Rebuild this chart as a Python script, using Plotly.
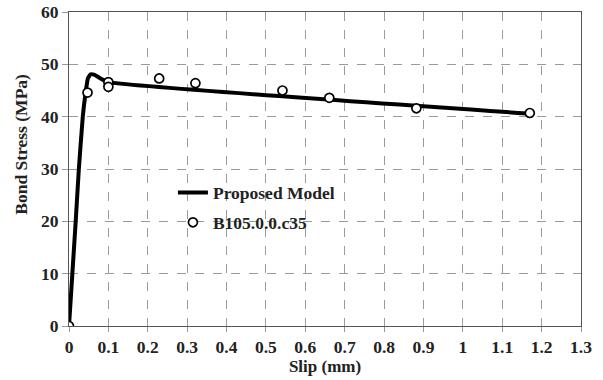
import plotly.graph_objects as go

# Proposed model curve
model_slip = [0, 0.0085, 0.017, 0.025, 0.035, 0.042, 0.048, 0.055, 0.065, 0.08, 0.1, 1.165]
model_stress = [0, 10, 20, 30, 40, 44.5, 47.3, 48.1, 48.0, 47.3, 46.6, 40.6]

# Experimental points B105.0.0.c35
exp_slip = [0, 0.047, 0.1, 0.1, 0.229, 0.321, 0.542, 0.661, 0.882, 1.17]
exp_stress = [0, 44.6, 46.6, 45.7, 47.3, 46.4, 45.0, 43.6, 41.6, 40.7]

x_ticks = [round(0.1 * i, 1) for i in range(14)]
x_labels = ["0", "0.1", "0.2", "0.3", "0.4", "0.5", "0.6", "0.7", "0.8", "0.9", "1", "1.1", "1.2", "1.3"]
y_ticks = [0, 10, 20, 30, 40, 50, 60]

FONT = "Liberation Serif"

fig = go.Figure()
fig.add_trace(go.Scatter(
    x=model_slip, y=model_stress, mode="lines", name="<b>Proposed Model</b>",
    line=dict(color="black", width=4, shape="spline", smoothing=0.4),
    legendgroup="a",
))
fig.add_trace(go.Scatter(
    x=exp_slip, y=exp_stress, mode="markers", name="<b>B105.0.0.c35</b>",
    marker=dict(symbol="circle", size=9, color="white", line=dict(color="black", width=1.7)),
    legendgroup="b",
))

fig.update_layout(
    width=603, height=380,
    margin=dict(l=69, r=22, t=12, b=54),
    plot_bgcolor="white", paper_bgcolor="white",
    font=dict(family=FONT, color="#222", size=17),
    showlegend=True,
    legend=dict(x=0.203, y=0.482, xanchor="left", yanchor="top",
                bgcolor="rgba(0,0,0,0)", font=dict(family=FONT, size=17.5, color="#222"),
                tracegroupgap=4, traceorder="grouped", itemwidth=30),
    xaxis=dict(
        range=[0, 1.3], tickvals=x_ticks, ticktext=["<b>%s</b>" % t for t in x_labels],
        showgrid=True, gridcolor="#9a9a9a", griddash="dash", gridwidth=1,
        showline=True, linecolor="#555", linewidth=1.2, mirror=True,
        ticks="outside", ticklen=5, tickcolor="#999",
        zeroline=False, automargin=False,
        title=dict(text="<b>Slip (mm)</b>", font=dict(family=FONT, size=17), standoff=2),
        tickfont=dict(family=FONT, size=17.5),
    ),
    yaxis=dict(
        range=[0, 60], tickvals=y_ticks, ticktext=["<b>%d</b>" % t for t in y_ticks],
        showgrid=True, gridcolor="#9a9a9a", griddash="dash", gridwidth=1,
        showline=True, linecolor="#555", linewidth=1.2, mirror=True,
        ticks="outside", ticklen=6, tickcolor="#999",
        zeroline=False, automargin=False,
        tickfont=dict(family=FONT, size=17.5),
    ),
    annotations=[dict(
        text="<b>Bond Stress (MPa)</b>", textangle=-90,
        xref="paper", yref="paper", x=-0.094, y=0.58,
        xanchor="center", yanchor="middle", showarrow=False,
        font=dict(family=FONT, size=17.5, color="#222"),
    )],
)

fig.write_html("out.html")
